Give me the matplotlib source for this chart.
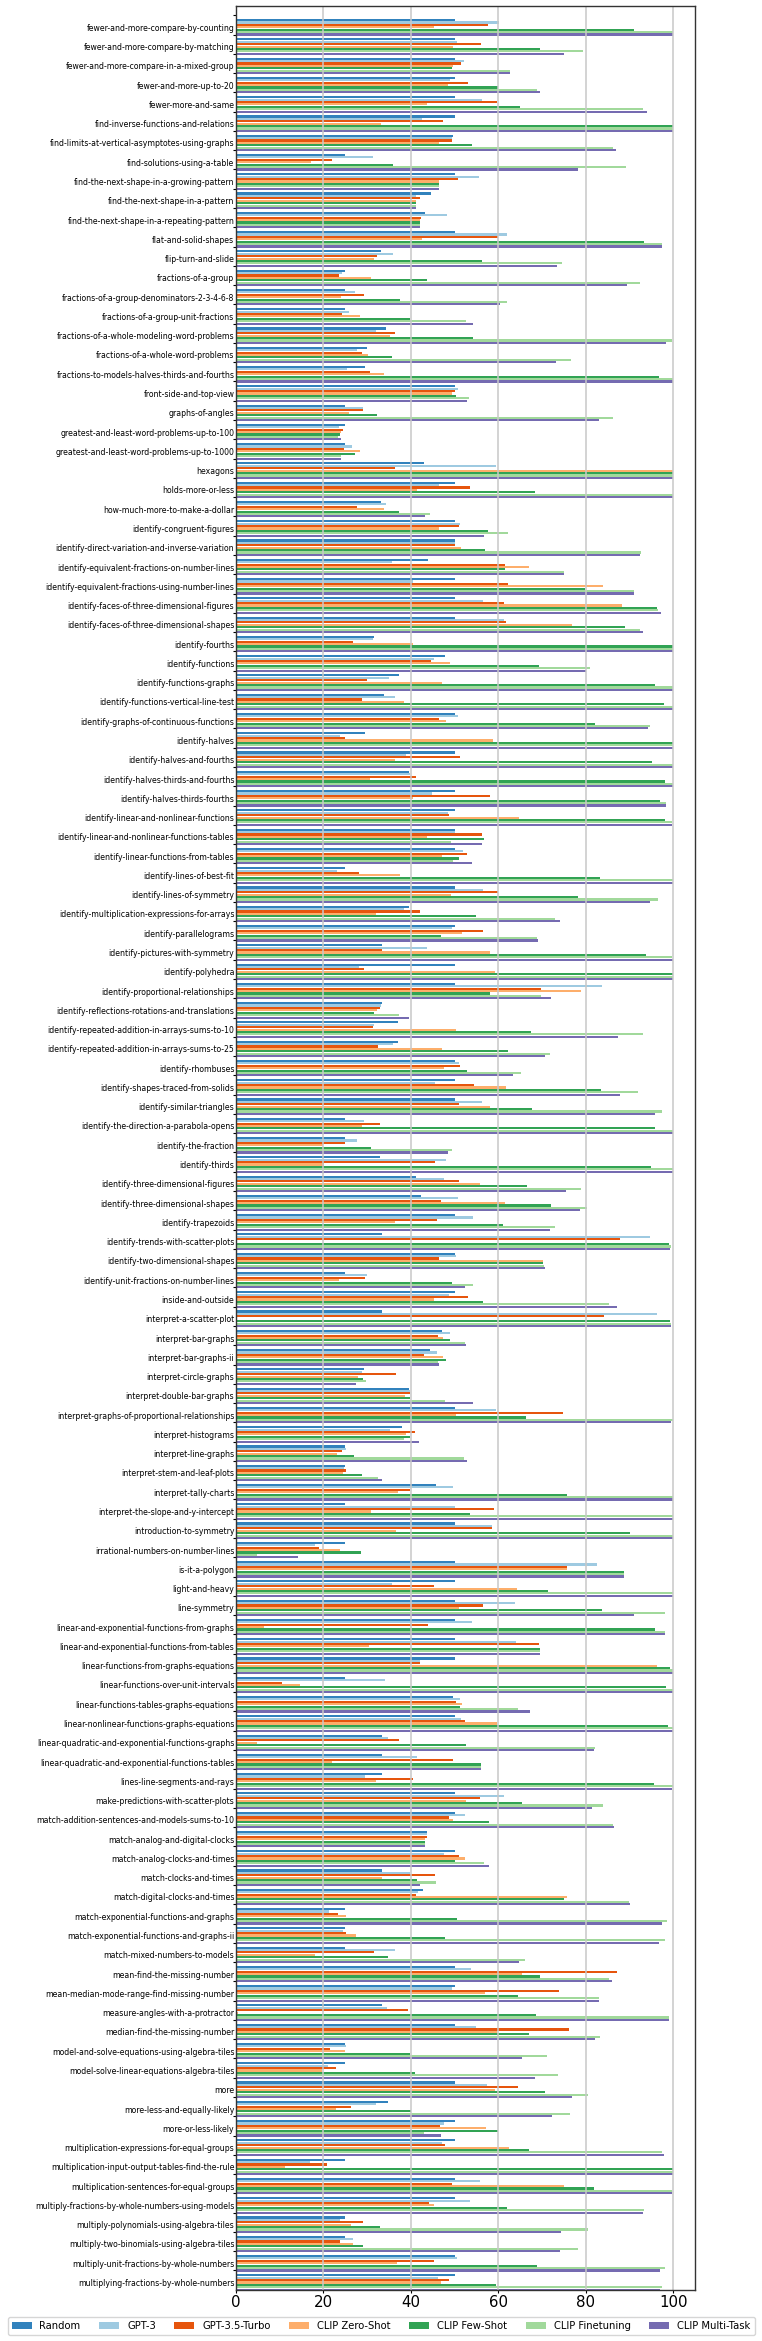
import matplotlib
matplotlib.use("Agg")
from matplotlib import pyplot as plt
import numpy as np

categories = [
    "fewer-and-more-compare-by-counting", "fewer-and-more-compare-by-matching",
    "fewer-and-more-compare-in-a-mixed-group", "fewer-and-more-up-to-20", "fewer-more-and-same",
    "find-inverse-functions-and-relations", "find-limits-at-vertical-asymptotes-using-graphs",
    "find-solutions-using-a-table", "find-the-next-shape-in-a-growing-pattern",
    "find-the-next-shape-in-a-pattern", "find-the-next-shape-in-a-repeating-pattern",
    "flat-and-solid-shapes", "flip-turn-and-slide", "fractions-of-a-group",
    "fractions-of-a-group-denominators-2-3-4-6-8", "fractions-of-a-group-unit-fractions",
    "fractions-of-a-whole-modeling-word-problems", "fractions-of-a-whole-word-problems",
    "fractions-to-models-halves-thirds-and-fourths", "front-side-and-top-view", "graphs-of-angles",
    "greatest-and-least-word-problems-up-to-100", "greatest-and-least-word-problems-up-to-1000",
    "hexagons", "holds-more-or-less", "how-much-more-to-make-a-dollar", "identify-congruent-figures",
    "identify-direct-variation-and-inverse-variation", "identify-equivalent-fractions-on-number-lines",
    "identify-equivalent-fractions-using-number-lines", "identify-faces-of-three-dimensional-figures",
    "identify-faces-of-three-dimensional-shapes", "identify-fourths", "identify-functions",
    "identify-functions-graphs", "identify-functions-vertical-line-test",
    "identify-graphs-of-continuous-functions", "identify-halves", "identify-halves-and-fourths",
    "identify-halves-thirds-and-fourths", "identify-halves-thirds-fourths",
    "identify-linear-and-nonlinear-functions", "identify-linear-and-nonlinear-functions-tables",
    "identify-linear-functions-from-tables", "identify-lines-of-best-fit", "identify-lines-of-symmetry",
    "identify-multiplication-expressions-for-arrays", "identify-parallelograms",
    "identify-pictures-with-symmetry", "identify-polyhedra", "identify-proportional-relationships",
    "identify-reflections-rotations-and-translations", "identify-repeated-addition-in-arrays-sums-to-10",
    "identify-repeated-addition-in-arrays-sums-to-25", "identify-rhombuses",
    "identify-shapes-traced-from-solids", "identify-similar-triangles",
    "identify-the-direction-a-parabola-opens", "identify-the-fraction", "identify-thirds",
    "identify-three-dimensional-figures", "identify-three-dimensional-shapes", "identify-trapezoids",
    "identify-trends-with-scatter-plots", "identify-two-dimensional-shapes",
    "identify-unit-fractions-on-number-lines", "inside-and-outside", "interpret-a-scatter-plot",
    "interpret-bar-graphs", "interpret-bar-graphs-ii", "interpret-circle-graphs",
    "interpret-double-bar-graphs", "interpret-graphs-of-proportional-relationships",
    "interpret-histograms", "interpret-line-graphs", "interpret-stem-and-leaf-plots",
    "interpret-tally-charts", "interpret-the-slope-and-y-intercept", "introduction-to-symmetry",
    "irrational-numbers-on-number-lines", "is-it-a-polygon", "light-and-heavy", "line-symmetry",
    "linear-and-exponential-functions-from-graphs", "linear-and-exponential-functions-from-tables",
    "linear-functions-from-graphs-equations", "linear-functions-over-unit-intervals",
    "linear-functions-tables-graphs-equations", "linear-nonlinear-functions-graphs-equations",
    "linear-quadratic-and-exponential-functions-graphs",
    "linear-quadratic-and-exponential-functions-tables", "lines-line-segments-and-rays",
    "make-predictions-with-scatter-plots", "match-addition-sentences-and-models-sums-to-10",
    "match-analog-and-digital-clocks", "match-analog-clocks-and-times", "match-clocks-and-times",
    "match-digital-clocks-and-times", "match-exponential-functions-and-graphs",
    "match-exponential-functions-and-graphs-ii", "match-mixed-numbers-to-models",
    "mean-find-the-missing-number", "mean-median-mode-range-find-missing-number",
    "measure-angles-with-a-protractor", "median-find-the-missing-number",
    "model-and-solve-equations-using-algebra-tiles", "model-solve-linear-equations-algebra-tiles",
    "more", "more-less-and-equally-likely", "more-or-less-likely",
    "multiplication-expressions-for-equal-groups", "multiplication-input-output-tables-find-the-rule",
    "multiplication-sentences-for-equal-groups", "multiply-fractions-by-whole-numbers-using-models",
    "multiply-polynomials-using-algebra-tiles", "multiply-two-binomials-using-algebra-tiles",
    "multiply-unit-fractions-by-whole-numbers", "multiplying-fractions-by-whole-numbers",
]

random_acc = [50, 50, 50, 50, 50, 50, 49.7, 25, 50, 44.6, 43.2, 50, 33.3, 25, 25, 25, 34.4, 29.9, 29.5, 50,
              25, 25, 25, 43, 50, 33.3, 50, 50, 44, 50, 50, 50, 31.7, 47.8, 37.2, 33.9, 50, 29.6, 50, 39.7,
              50, 50, 50, 50, 25, 50, 39.5, 50, 33.4, 50, 50, 33.4, 37, 37, 50, 50, 50, 25, 25, 33,
              41.1, 42.4, 50, 33.4, 50, 25, 50, 33.4, 47.1, 44.3, 29.3, 39.5, 50, 38.1, 25, 25, 45.7, 25, 50, 25,
              50, 50, 50, 50, 50, 50, 25, 49.7, 50, 33.4, 33.4, 33.4, 50, 50, 43.7, 50, 33.4, 42.7, 25, 25,
              25, 50, 50, 33.4, 50, 25, 25, 50, 34.8, 50, 50, 25, 50, 50, 25, 25, 50, 50]
gpt3 = [60.1, 50.6, 52.2, 48.9, 56.2, 42.6, 49.4, 31.3, 55.6, 41.3, 48.2, 62, 35.9, 24.2, 27.2, 25.8, 32, 27.8, 25.4, 50.7,
        29, 23.6, 26.5, 59.4, 46.4, 34.4, 51.3, 50.2, 35.7, 40.5, 56.4, 61.2, 31.4, 45.3, 35, 36.4, 50.7, 23.8, 39, 39.8,
        44.8, 48.4, 50.1, 52, 23.1, 56.4, 38.4, 49.5, 43.7, 28.1, 83.8, 33.1, 31.7, 36, 50.9, 45.6, 56.3, 29.3, 27.7, 48.1,
        47.6, 50.8, 54.2, 94.7, 50.4, 30.1, 48.8, 96.3, 49, 46, 28.8, 39.8, 59.5, 35.2, 25.2, 24.7, 49.7, 50, 58.5, 18,
        82.6, 35.7, 63.7, 54, 64, 42, 34, 51.3, 51.5, 34.7, 41.5, 29.6, 61.2, 52.4, 43.6, 47.6, 39.8, 41.7, 21.4, 24.4,
        36.5, 53.7, 49.3, 34.5, 55, 25.1, 21.1, 57.4, 32.1, 47.6, 47.1, 17, 55.7, 53.5, 23.8, 26.7, 50.5, 46.2]
gpt35_turbo = [57.6, 56, 51.4, 53, 59.6, 47.4, 49.3, 21.9, 50.7, 42.1, 42.4, 60, 32.2, 23.6, 29.3, 24.3, 36.5, 28.9, 30.6, 50.2,
               29, 24.5, 24.7, 36.4, 53.6, 27.6, 51, 50, 61.6, 62.3, 61.2, 61.7, 26.8, 44.7, 30.1, 28.9, 46.4, 25, 51.2, 41.2,
               58.2, 48.8, 56.3, 52.8, 28.1, 59.9, 42, 56.6, 33.4, 29.3, 69.8, 32.9, 31.3, 32.5, 51.3, 54.4, 51, 33, 25, 45.6,
               51, 46.8, 45.9, 87.7, 46.4, 29.6, 53, 84.1, 46.2, 43, 36.7, 39.9, 74.7, 41, 24.2, 25.2, 39.9, 59.1, 58.6, 19,
               75.8, 45.3, 56.4, 43.9, 69.4, 42.2, 10.6, 50.4, 52.3, 37.4, 49.6, 40.5, 55.8, 48.8, 43.8, 51.1, 45.5, 41.2, 23.3, 25.1,
               31.5, 87.2, 73.8, 39.4, 76.2, 21.6, 22.9, 64.6, 26.3, 46.6, 47.7, 20.8, 49.3, 44.1, 29, 23.8, 45.3, 48.8]
clip_zero_shot = [45.3, 49.7, 49.7, 48.5, 43.7, 33.1, 46.4, 17.2, 46.4, 41.1, 42.2, 42.5, 31.5, 31, 24, 28.4, 35.2, 30.3, 33.8, 49.5,
                  25.8, 24, 28.3, 100, 41.5, 33.8, 46.5, 51.5, 66.9, 84, 88.3, 76.9, 40.6, 48.9, 47.1, 38.4, 48, 58.7, 36.5, 30.7,
                  40.4, 64.8, 43.8, 47.2, 37.6, 49.1, 32, 51.6, 58, 59.3, 79, 32.2, 50.4, 47.1, 47.5, 61.8, 58, 28.8, 20, 20.2,
                  55.7, 61.5, 36.3, 0, 70.1, 23.5, 45.3, 0, 47.4, 47.4, 28, 38.7, 50.3, 38.9, 23.2, 24.5, 37, 31, 36.6, 23.8,
                  75.7, 64.3, 51, 6.4, 30.4, 96.3, 14.6, 51.6, 59.7, 4.8, 21.9, 32, 52.6, 49.6, 43.3, 52.3, 33.5, 75.8, 25.3, 27.4,
                  18.2, 65.3, 56.9, 0.4, 59.7, 25, 19.7, 59.2, 22.8, 57.2, 62.5, 11.2, 74.9, 45.2, 26.4, 26.7, 36.8, 46.8]
clip_few_shot = [91.1, 69.5, 49.3, 60, 65, 100, 53.9, 36, 46.4, 41.1, 42.1, 93.4, 56.3, 43.7, 37.5, 39.9, 54.2, 35.6, 96.8, 50.4,
                 32.2, 23.8, 27.2, 100, 68.3, 37.3, 57.7, 57, 61.6, 79.7, 96.3, 88.9, 100, 69.3, 95.7, 97.8, 82, 100, 95.2, 98.2,
                 97, 98.2, 56.8, 51, 83.2, 78.2, 54.8, 46.8, 93.7, 100, 58.2, 31.7, 67.5, 62.2, 52.9, 83.5, 67.8, 95.9, 31, 95,
                 66.6, 72.1, 61, 99, 70.2, 49.5, 56.4, 99.3, 49, 48, 29, 39.8, 66.4, 39.8, 27, 28.8, 75.8, 53.6, 90.2, 28.6,
                 88.7, 71.4, 83.6, 95.7, 69.5, 99.3, 98.4, 51.2, 98.8, 52.6, 56.1, 95.5, 65.5, 57.9, 43.2, 50.2, 41.4, 74.9, 50.5, 47.7,
                 34.8, 69.5, 64.4, 68.5, 66.9, 39.9, 40.9, 70.6, 40.1, 59.9, 66.9, 100, 81.9, 62, 33, 29.1, 68.8, 59.5]
clip_finetuning = [100, 79.4, 62.6, 68.8, 93.1, 100, 86.3, 89.1, 46.4, 41.1, 42.1, 97.3, 74.5, 92.4, 62, 52.6, 99.8, 76.6, 100, 53.2,
                   86.3, 23.3, 24, 100, 100, 44.5, 62.3, 92.7, 75, 90.9, 96.6, 92.4, 100, 80.9, 100, 100, 94.6, 100, 100, 100,
                   98.4, 99.7, 49.1, 49.7, 100, 96.4, 72.9, 68.8, 99.7, 100, 69.8, 37.3, 93, 71.7, 65.1, 91.9, 97.5, 100, 49.3, 100,
                   78.9, 80.3, 72.9, 99.4, 70.5, 54.3, 85.4, 99.5, 52.4, 46.3, 29.7, 47.9, 100, 38.5, 52.1, 32.4, 100, 100, 100, 4.8,
                   88.7, 100, 98.1, 98.1, 69.5, 100, 100, 64.4, 100, 82.2, 56.1, 100, 84, 86.3, 43.3, 56.7, 45.7, 89.8, 98.6, 98.1,
                   66.2, 85.2, 82.9, 99.1, 83.2, 71.1, 73.6, 80.5, 76.4, 43.1, 97.5, 100, 99.7, 93.3, 80.6, 78.3, 98.2, 97.5]
clip_multi_task = [100, 75.1, 62.7, 69.6, 94, 100, 86.9, 78.1, 46.4, 41.1, 42.1, 97.4, 73.5, 89.5, 60.4, 54.1, 98.3, 73.1, 100, 52.8,
                   83.1, 24, 24, 100, 100, 43.3, 56.8, 92.4, 75, 90.9, 97.1, 93, 100, 80, 100, 100, 94.3, 100, 100, 100,
                   98.4, 99.7, 56.3, 53.9, 100, 94.6, 74, 69, 100, 100, 72.1, 39.5, 87.4, 70.7, 63.3, 87.9, 95.8, 100, 48.5, 100,
                   75.5, 78.7, 71.9, 99.3, 70.7, 52.3, 87.2, 99.5, 52.6, 46.4, 27.5, 54.2, 99.4, 41.8, 52.9, 33.5, 100, 100, 100, 14.3,
                   88.7, 100, 90.9, 98.1, 69.5, 100, 100, 67.3, 100, 81.9, 56.1, 99.7, 81.3, 86.5, 43.3, 57.9, 42.2, 90.2, 97.3, 96.7,
                   64.8, 86, 83.1, 99.1, 82, 65.4, 68.3, 76.9, 72.3, 46.9, 97.9, 100, 99.7, 93, 74.3, 74, 96.9, 97]

series_names = ["Random", "GPT-3", "GPT-3.5-Turbo", "CLIP Zero-Shot", "CLIP Few-Shot", "CLIP Finetuning", "CLIP Multi-Task"]
series = [random_acc, gpt3, gpt35_turbo, clip_zero_shot, clip_few_shot, clip_finetuning, clip_multi_task]
colors = ["#3182bd", "#9ecae1", "#e6550d", "#fdae6b", "#31a354", "#a1d99b", "#756bb1"]

n = len(categories)
ind = np.arange(n)
width = 0.125

fig = plt.figure(figsize=(7.62, 23.41), dpi=100)
ax = fig.add_axes([0.3094, 0.0219, 0.6030, 0.9757])

bars = []
for k in range(len(series)):
    b = ax.barh(ind + (k + 2) * width, series[k], height=width * 0.88, color=colors[k], label=series_names[k])
    bars.append(b)

ax.set_xlim(0, 105)
ax.set_ylim(n, -0.5)
ax.grid(axis='x', color='#c8c8c8', linewidth=1.1)

# tick marks at group starts, labels at group centres
ax.set_yticks(ind)
ax.set_yticklabels([])
ax.set_yticks(ind + 5 * width, labels=categories, minor=True)
ax.tick_params(axis='y', which='major', length=2.5, width=0.8)
ax.tick_params(axis='y', which='minor', length=0, pad=1, labelsize=5.6)
ax.tick_params(axis='x', length=2.5, pad=1.5, labelsize=10.8)
for s in ax.spines.values():
    s.set_color('#333333')
    s.set_linewidth(1.0)

fig.legend(handles=bars, labels=series_names, loc='upper center', bbox_to_anchor=(0.5, 0.0101),
           ncol=7, fontsize=7.2, columnspacing=1.85, borderaxespad=0)

plt.savefig("out.png", dpi=100)
